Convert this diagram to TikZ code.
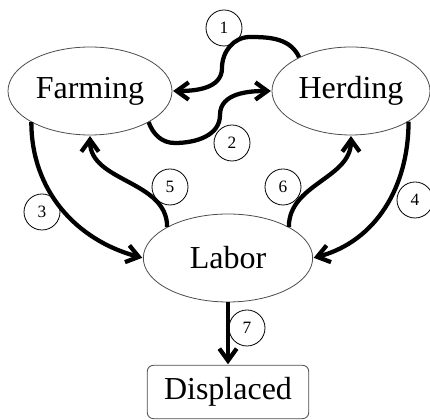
\documentclass[tikz,border=0pt]{standalone}
\usepackage{fontspec}
\setmainfont{Liberation Serif}
\usetikzlibrary{shapes.geometric,arrows.meta}

\begin{document}
\begin{tikzpicture}[x=0.75pt,y=0.75pt,
  state/.style={ellipse,draw=black!70,line width=0.6pt,inner sep=0pt,minimum height=66pt,font=\fontsize{24}{28}\selectfont},
  num/.style={circle,draw,line width=0.6pt,minimum size=27pt,inner sep=0pt,font=\fontsize{13}{15}\selectfont},
  flow/.style={line width=3.2pt,-{Straight Barb[length=9pt,width=13pt]},shorten >=0.5pt}]
\useasboundingbox (0,0) rectangle (430,420);

\node[state,minimum width=123pt] (farm) at (90,329) {Farming};
\node[state,minimum width=118.5pt] (herd) at (351,329) {Herding};
\node[state,minimum width=127pt] (labor) at (228,162) {Labor};
\node[rectangle,rounded corners=4.5pt,draw=black!70,line width=0.6pt,minimum width=121pt,minimum height=40pt,font=\fontsize{24}{28}\selectfont] (disp) at (228,28) {Displaced};

\coordinate (top1) at (250,383);
\coordinate (mid1) at (222,352);
\coordinate (bot2) at (175,277);
\coordinate (mid2) at (220,305);

\draw[flow] (herd.147) to[out=115,in=0] (top1) to[out=180,in=90] (mid1) to[out=-90,in=0] (farm.east);
\draw[flow] (farm.-28) to[out=-70,in=180] (bot2) to[out=0,in=-90] (mid2) to[out=90,in=180] (herd.west);
\draw[flow] (farm.208) to[out=-90,in=165] (labor.west);
\draw[flow] (herd.-28) to[out=-90,in=15] (labor.east);
\draw[flow] (labor.153) to[out=90,in=-90] (farm.south);
\draw[flow] (labor.27) to[out=90,in=-90] (herd.south);
\draw[flow] (labor) -- (disp);

\node[num] (n1) at (224,392) {1};
\node[num] (n2) at (232,277) {2};
\node[num] (n3) at (42,208) {3};
\node[num] (n4) at (415,220) {4};
\node[num] (n5) at (170,233) {5};
\node[num] (n6) at (283,233) {6};
\node[num] (n7) at (247,92) {7};
\end{tikzpicture}
\end{document}
